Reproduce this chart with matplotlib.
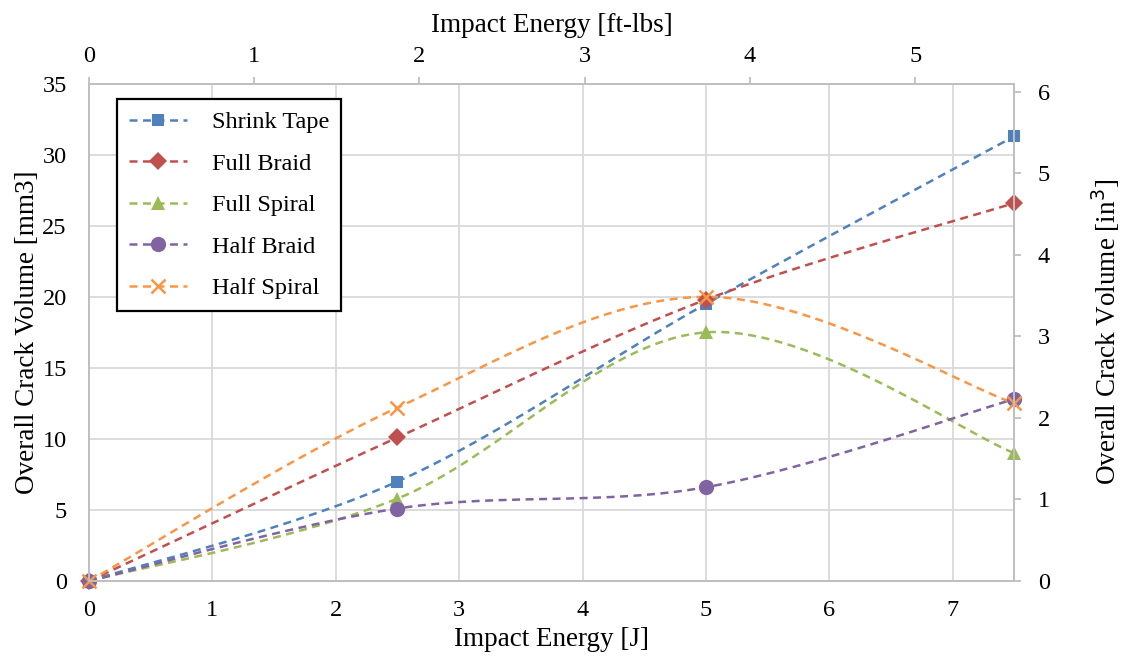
import numpy as np
import matplotlib
matplotlib.use('Agg')
import matplotlib.pyplot as plt
from matplotlib.lines import Line2D

plt.rcParams['font.family'] = ['Liberation Serif', 'DejaVu Serif']

# --- data ---
energy_j = [0, 2.5, 5, 7.5]
shrink_tape = [0, 7.0, 19.5, 31.3]
full_braid = [0, 10.1, 19.8, 26.6]
full_spiral = [0, 5.8, 17.5, 9.0]
half_braid = [0, 5.1, 6.6, 12.8]
half_spiral = [0, 12.2, 20.0, 12.5]

series_names = ['Shrink Tape', 'Full Braid', 'Full Spiral', 'Half Braid', 'Half Spiral']
series_vals = [shrink_tape, full_braid, full_spiral, half_braid, half_spiral]
colors = ['#4F81BD', '#C0504D', '#9BBB59', '#8064A2', '#F79646']
markers = ['s', 'D', '^', 'o', 'x']
msizes = [8.5, 9, 10.5, 11, 10]

TOP_MAX = 5.6      # ft-lbs axis max (as read)
RIGHT_MAX = 6.1    # in^3 axis max (as read)
GRID = '#d9d9d9'
SPINE = '#bfbfbf'
TICK_FS = 17.5
LABEL_FS = 19.5


def excel_smooth(x, y, n=40):
    """Bezier smoothing similar to Excel's 'smoothed line'."""
    p = np.column_stack([x, y]).astype(float)
    pts = []
    for i in range(len(p) - 1):
        p0 = p[i - 1] if i > 0 else p[i]
        p1, p2 = p[i], p[i + 1]
        p3 = p[i + 2] if i + 2 < len(p) else p[i + 1]
        c1 = p1 + (p2 - p0) / 6.0
        c2 = p2 - (p3 - p1) / 6.0
        t = np.linspace(0, 1, n)[:, None]
        seg = ((1 - t) ** 3) * p1 + 3 * ((1 - t) ** 2) * t * c1 + 3 * (1 - t) * t ** 2 * c2 + t ** 3 * p2
        pts.append(seg if i == 0 else seg[1:])
    pts = np.vstack(pts)
    return pts[:, 0], pts[:, 1]


fig = plt.figure(figsize=(11.27, 6.64), dpi=100)
ax = fig.add_axes([0.079, 0.125, 0.821, 0.749])

dash = (0, (3.2, 2.2))
lw = 1.8
handles = []
for name, vals, c, m, ms in zip(series_names, series_vals, colors, markers, msizes):
    xs, ys = excel_smooth(energy_j, vals)
    ax.plot(xs, ys, color=c, lw=lw, linestyle=dash, zorder=3)
    mkw = dict(markersize=ms, markeredgewidth=1.8 if m == 'x' else 0)
    ax.plot(energy_j, vals, color=c, linestyle='none', marker=m, clip_on=False, zorder=4, **mkw)
    handles.append(Line2D([], [], color=c, lw=lw, linestyle=dash, marker=m, **mkw))

ax.set_xlim(0, 7.5)
ax.set_ylim(0, 35)
ax.set_xticks(range(0, 8))
ax.set_yticks(range(0, 36, 5))
ax.grid(True, color=GRID, lw=1.3)
ax.set_axisbelow(True)
ax.tick_params(axis='y', length=0, labelsize=TICK_FS, pad=16)
ax.tick_params(axis='x', length=0, labelsize=TICK_FS, pad=14)
for s in ax.spines.values():
    s.set_color(SPINE)
    s.set_linewidth(1.3)
ax.set_xlabel('Impact Energy [J]', fontsize=LABEL_FS, labelpad=4)
ax.set_ylabel('Overall Crack Volume [mm3]', fontsize=LABEL_FS, labelpad=2)

# top axis in ft-lbs
axt = ax.twiny()
axt.set_xlim(0, TOP_MAX)
axt.set_xticks(range(0, 6))
axt.tick_params(axis='x', length=5, color=SPINE, width=1.3, labelsize=TICK_FS, pad=7)
axt.set_xlabel('Impact Energy [ft-lbs]', fontsize=LABEL_FS, labelpad=10)

# right axis in in^3
axr = ax.twinx()
axr.set_ylim(0, RIGHT_MAX)
axr.set_yticks(range(0, 7))
axr.tick_params(axis='y', length=5, color=SPINE, width=1.3, labelsize=TICK_FS, pad=12)
axr.set_ylabel('Overall Crack Volume [in$^3$]', fontsize=LABEL_FS, labelpad=28)
for a in (axt, axr):
    for s in a.spines.values():
        s.set_color(SPINE)
        s.set_linewidth(1.3)

leg = ax.legend(handles, series_names, loc='upper left', bbox_to_anchor=(0.030, 0.969),
                borderaxespad=0, fontsize=17.5, frameon=True, fancybox=False,
                edgecolor='black', framealpha=1, handlelength=2.4, labelspacing=0.8,
                borderpad=0.5, handletextpad=1.0)
leg.get_frame().set_linewidth(1.6)
leg.set_zorder(10)

fig.savefig('out.png', dpi=100)
